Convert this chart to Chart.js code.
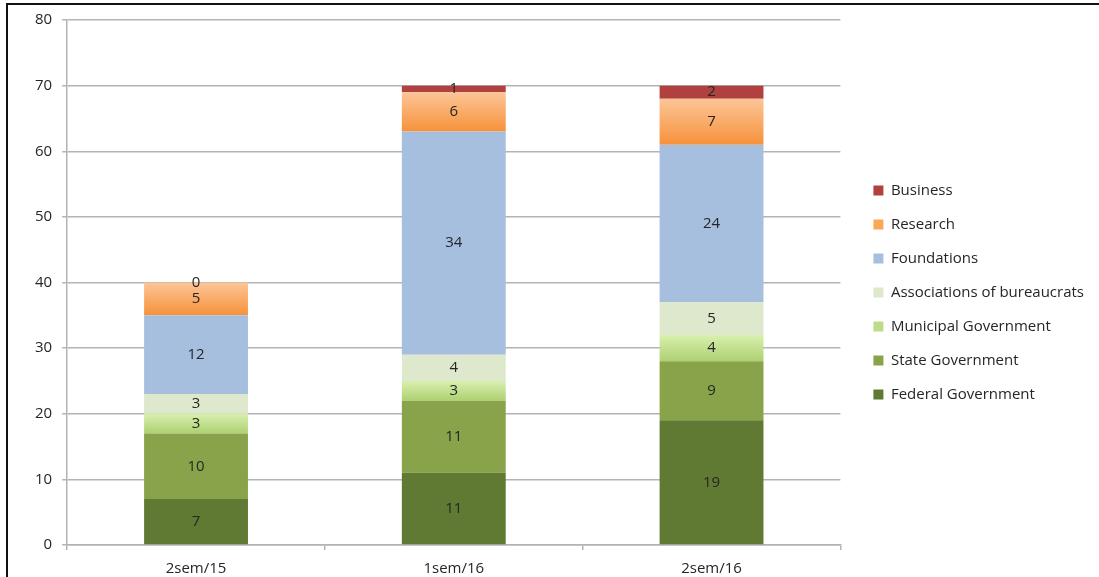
<!DOCTYPE html>
<html>
<head>
<meta charset="utf-8">
<script src="https://cdn.jsdelivr.net/npm/chart.js@4.4.1/dist/chart.umd.min.js"></script>
<style>
  body { margin: 0; background: #fff; }
  #wrap { position: relative; width: 1099px; height: 577px; }
  #frame { position: absolute; left: 6px; top: 3px; right: 0; bottom: 0; border-left: 2px solid #111; border-top: 2px solid #111; pointer-events: none; }
</style>
</head>
<body>
<div id="wrap">
  <canvas id="myChart" width="1099" height="577"></canvas>
  <div id="frame"></div>
</div>
<script>
// Datos del grafico
const periods = ["2sem/15", "1sem/16", "2sem/16"];
const federal = [7, 11, 19];
const state = [10, 11, 9];
const municipal = [3, 3, 4];
const associations = [3, 4, 5];
const foundations = [12, 34, 24];
const research = [5, 6, 7];
const business = [0, 1, 2];
const yTicks = [0, 10, 20, 30, 40, 50, 60, 70, 80];

const FONT = "'Open Sans', sans-serif";
const TEXT = "#262626";
const series = [
    {label: "Federal Government", data: federal, color: "#617a33"},
    {label: "State Government", data: state, color: "#89a34a"},
    {label: "Municipal Government", data: municipal, color: "#bddc88", grad: ["#d8f0ae", "#aed072"]},
    {label: "Associations of bureaucrats", data: associations, color: "#dee8cc"},
    {label: "Foundations", data: foundations, color: "#a6bfdf"},
    {label: "Research", data: research, color: "#f9a85a", grad: ["#fcc597", "#f6923a"]},
    {label: "Business", data: business, color: "#b0413e"}
];

// degradado vertical para cada segmento
function segmentFill(ctx, i) {
    const s = series[i];
    if (!s.grad || ctx.type !== "data") return s.color;
    const chart = ctx.chart;
    const y = chart.scales.y;
    if (!y) return s.color;
    let start = 0;
    for (let k = 0; k < i; k++) start += series[k].data[ctx.dataIndex];
    const end = start + s.data[ctx.dataIndex];
    const top = y.getPixelForValue(end), bot = y.getPixelForValue(start);
    if (!isFinite(top) || !isFinite(bot) || top === bot) return s.color;
    const g = chart.ctx.createLinearGradient(0, top, 0, bot);
    g.addColorStop(0, s.grad[0]);
    g.addColorStop(1, s.grad[1]);
    return g;
}

// etiquetas con los valores dentro de cada barra
const valueLabels = {
    id: "valueLabels",
    afterDatasetsDraw(chart) {
        const c = chart.ctx;
        c.save();
        c.font = "15px " + FONT;
        c.fillStyle = TEXT;
        c.textAlign = "center";
        c.textBaseline = "middle";
        chart.data.datasets.forEach((ds, i) => {
            const meta = chart.getDatasetMeta(i);
            meta.data.forEach((bar, j) => {
                const p = bar.getProps(["x", "y", "base"], true);
                c.fillText(String(ds.data[j]), p.x, (p.y + p.base) / 2);
            });
        });
        c.restore();
    }
};

// mueve la leyenda un poco a la derecha y arriba
const legendShift = {
    id: "legendShift",
    afterLayout(chart) {
        const lg = chart.legend;
        if (!lg) return;
        lg.left += 14; lg.right += 14;
        lg.top -= 6; lg.bottom -= 6;
    }
};

let ctx = document.getElementById("myChart");
let myChart = new Chart(ctx, {
    type: "bar",
    data: {
        labels: periods,
        datasets: series.map((s, i) => ({
            label: s.label,
            data: s.data,
            backgroundColor: (c) => segmentFill(c, i),
            borderWidth: 0,
            categoryPercentage: 1,
            barPercentage: 0.403
        }))
    },
    options: {
        responsive: false,
        animation: false,
        layout: {padding: {left: 25, top: 20, bottom: 0, right: 19}},
        plugins: {
            tooltip: {enabled: false},
            legend: {
                position: "right",
                reverse: true,
                labels: {
                    font: {family: FONT, size: 15},
                    color: TEXT,
                    boxWidth: 10,
                    boxHeight: 10,
                    padding: 19,
                    generateLabels(chart) {
                        const items = Chart.defaults.plugins.legend.labels.generateLabels(chart);
                        items.forEach((it) => {
                            it.fillStyle = series[it.datasetIndex].color;
                            it.lineWidth = 0;
                            it.strokeStyle = "rgba(0,0,0,0)";
                        });
                        return items;
                    }
                }
            }
        },
        scales: {
            x: {
                stacked: true,
                grid: {drawOnChartArea: false, drawTicks: true, tickLength: 5, color: "#b3b3b3", lineWidth: 1.5},
                border: {color: "#b3b3b3", width: 1.5},
                ticks: {font: {family: FONT, size: 15}, color: TEXT, padding: 10},
                afterFit(axis) { axis.height = 32; }
            },
            y: {
                stacked: true,
                min: 0,
                max: 80,
                afterBuildTicks(axis) { axis.ticks = yTicks.map((v) => ({value: v})); },
                grid: {color: "#b3b3b3", lineWidth: 1.5, tickLength: 5},
                border: {color: "#b3b3b3", width: 1.5},
                ticks: {font: {family: FONT, size: 15}, color: TEXT, padding: 10}
            }
        }
    },
    plugins: [valueLabels, legendShift]
});
</script>
</body>
</html>
